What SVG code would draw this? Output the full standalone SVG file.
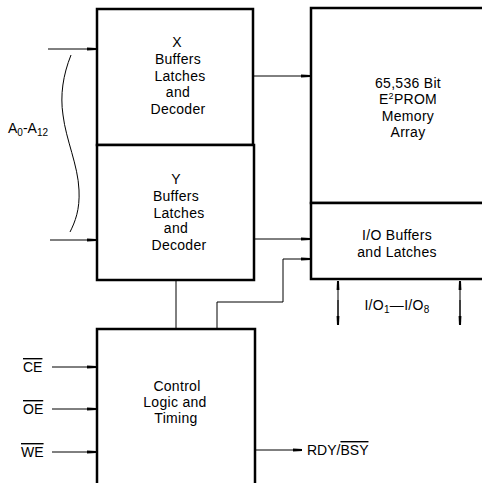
<svg xmlns="http://www.w3.org/2000/svg" width="482" height="483" viewBox="0 0 482 483">
<style>
.box{fill:#fff;stroke:#000;stroke-width:2.5}
.ln{fill:none;stroke:#000;stroke-width:1}
.t{font-family:"Liberation Sans",Arial,sans-serif;font-size:14px;letter-spacing:0.3px;fill:#000;text-anchor:middle}
.l{font-family:"Liberation Sans",Arial,sans-serif;font-size:14px;fill:#000}
</style>
<defs>
<marker id="ah" markerWidth="9" markerHeight="4" refX="9" refY="2" orient="auto" markerUnits="userSpaceOnUse">
<path d="M0,0.6 L9,1 L9,3 L0,3.4 Z" fill="#000"/>
</marker>
</defs>
<rect width="482" height="483" fill="#fff"/>
<g id="connectors">
<line class="ln" x1="48" y1="49" x2="96" y2="49" marker-end="url(#ah)"/>
<line class="ln" x1="50" y1="240" x2="96" y2="240" marker-end="url(#ah)"/>
<path class="ln" d="M71,55 C63,75 60,95 63,115 C66,140 78,165 79,190 C80,210 75,222 70,232" stroke-width="1.3"/>
<line class="ln" x1="253" y1="76" x2="310" y2="76" marker-end="url(#ah)"/>
<line class="ln" x1="254" y1="239" x2="310" y2="239" marker-end="url(#ah)"/>
<path class="ln" d="M217,329 V302 H283 V259 H310" marker-end="url(#ah)"/>
<line class="ln" x1="176" y1="280" x2="176" y2="329"/>
<line class="ln" x1="52" y1="367" x2="96" y2="367" marker-end="url(#ah)"/>
<line class="ln" x1="52" y1="409" x2="96" y2="409" marker-end="url(#ah)"/>
<line class="ln" x1="52" y1="452" x2="96" y2="452" marker-end="url(#ah)"/>
<line class="ln" x1="256" y1="450" x2="302" y2="450" marker-end="url(#ah)"/>
<line class="ln" x1="338" y1="325" x2="338" y2="281" marker-end="url(#ah)"/>
<line class="ln" x1="338" y1="300" x2="338" y2="325" marker-end="url(#ah)"/>
<line class="ln" x1="460" y1="325" x2="460" y2="281" marker-end="url(#ah)"/>
<line class="ln" x1="460" y1="300" x2="460" y2="325" marker-end="url(#ah)"/>
</g>
<g id="x-decoder">
<rect class="box" x="97" y="9" width="156" height="136"/>
<text class="t" x="177" y="47">X</text>
<text class="t" x="178" y="64">Buffers</text>
<text class="t" x="180" y="81">Latches</text>
<text class="t" x="178" y="97">and</text>
<text class="t" x="178" y="114">Decoder</text>
</g>
<g id="y-decoder">
<rect class="box" x="97" y="145" width="157" height="135"/>
<text class="t" x="176" y="184">Y</text>
<text class="t" x="176" y="201">Buffers</text>
<text class="t" x="179" y="218">Latches</text>
<text class="t" x="176" y="233">and</text>
<text class="t" x="179" y="250">Decoder</text>
</g>
<g id="memory">
<rect class="box" x="311" y="8" width="175" height="195"/>
<text class="t" x="408" y="88">65,536 Bit</text>
<text class="t" x="408" y="104">E<tspan font-size="9" dy="-5">2</tspan><tspan dy="5">PROM</tspan></text>
<text class="t" x="408" y="121">Memory</text>
<text class="t" x="408" y="137">Array</text>
</g>
<g id="io-buffers">
<rect class="box" x="311" y="203" width="175" height="76"/>
<text class="t" x="397" y="240">I/O Buffers</text>
<text class="t" x="397" y="257">and Latches</text>
</g>
<g id="io-label">
<text class="t" x="397" y="310">I/O<tspan font-size="10" dy="3">1</tspan><tspan dy="-3">—I/O</tspan><tspan font-size="10" dy="3">8</tspan></text>
</g>
<g id="control">
<rect class="box" x="97" y="329" width="158" height="160"/>
<text class="t" x="177" y="391">Control</text>
<text class="t" x="175" y="407">Logic and</text>
<text class="t" x="176" y="423">Timing</text>
</g>
<g id="labels">
<text class="l" x="8" y="133">A<tspan font-size="10" dy="3">0</tspan><tspan dy="-3">-A</tspan><tspan font-size="10" dy="3">12</tspan></text>
<text class="l" x="23" y="372" text-decoration="overline">CE</text>
<text class="l" x="23" y="414" text-decoration="overline">OE</text>
<text class="l" x="21" y="457" text-decoration="overline">WE</text>
<text class="l" x="307" y="455">RDY/<tspan text-decoration="overline">BSY</tspan></text>
</g>
</svg>
